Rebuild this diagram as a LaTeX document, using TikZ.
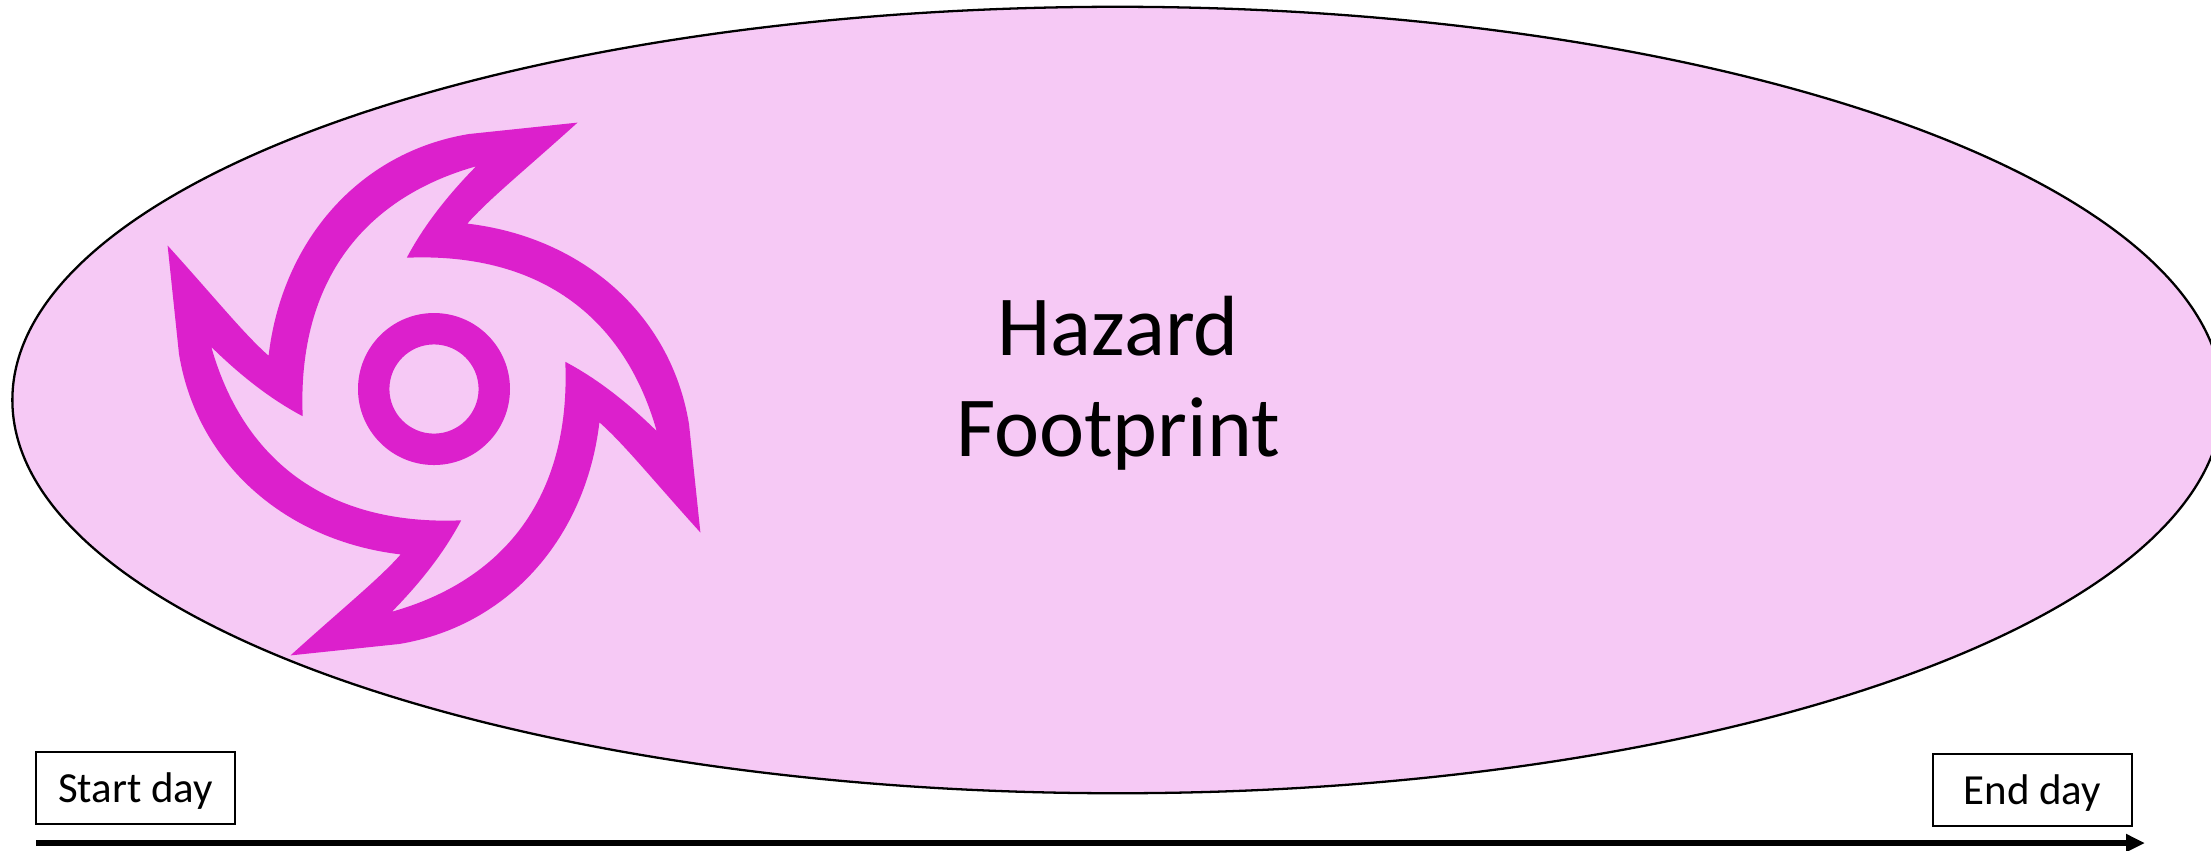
\documentclass[tikz,border=0pt]{standalone}
\usepackage{xcolor}
\usepackage{fontspec}
\setmainfont{Carlito}
\usetikzlibrary{shapes.geometric,arrows.meta}

\begin{document}
\begin{tikzpicture}[x=0.01cm,y=-0.01cm,
  footprint/.style={ellipse,draw,line width=0.65pt,fill=hazardfill,minimum width=22.09cm,minimum height=7.86cm,inner sep=0},
  daybox/.style={rectangle,draw,line width=0.75pt,minimum width=1.99cm,minimum height=0.72cm,inner sep=0,text height=0.33cm,text depth=0.05cm,font=\fontsize{12.2}{14}\selectfont},
  timeline/.style={line width=1.85pt,-{Triangle[length=0.19cm,width=0.17cm]}}]
\definecolor{hazardfill}{HTML}{F6C9F5}
\definecolor{swirlpink}{HTML}{DC20CC}
\useasboundingbox (0,0) rectangle (2211,850);
\node [footprint] (hazard) at (1117.5,400) {};
\node [align=center,font=\fontsize{24.3}{28.7}\selectfont] (hazardtext) at (1118,383) {Hazard\\Footprint};
% swirl, one blade per turn
\fill [swirlpink,even odd rule,shift={(434,389)}]
  (143.5,-266.4)
  \foreach \ang in {0,-90,-180,-270}
  { .. controls ([rotate=\ang]90,-218) and ([rotate=\ang]55,-190) .. ([rotate=\ang]33.3,-165.4)
    .. controls ([rotate=\ang]148,-152) and ([rotate=\ang]237,-75) .. ([rotate=\ang]255,35)
    -- ([rotate=\ang]266.4,143.5) }
  -- cycle
  (42.1,-222.7)
  \foreach \ang in {0,-90,-180,-270}
  { .. controls ([rotate=\ang]10,-190) and ([rotate=\ang]-12,-160) .. ([rotate=\ang]-27.2,-131.3)
    .. controls ([rotate=\ang]111,-137) and ([rotate=\ang]192,-67) .. ([rotate=\ang]222.7,42.1) }
  -- cycle
  (0,0) circle [radius=76]
  (0,0) circle [radius=44.6];
  \foreach \nm/\txt/\posx/\posy in {startday/Start day/135.5/788,endday/End day/2032.5/790}
  {  \node [daybox] (\nm) at (\posx,\posy) {\txt};}
\coordinate (timestart) at (36,843);
\coordinate (timeend) at (2145,843);
\draw [timeline] (timestart) -- (timeend);
\end{tikzpicture}
\end{document}
